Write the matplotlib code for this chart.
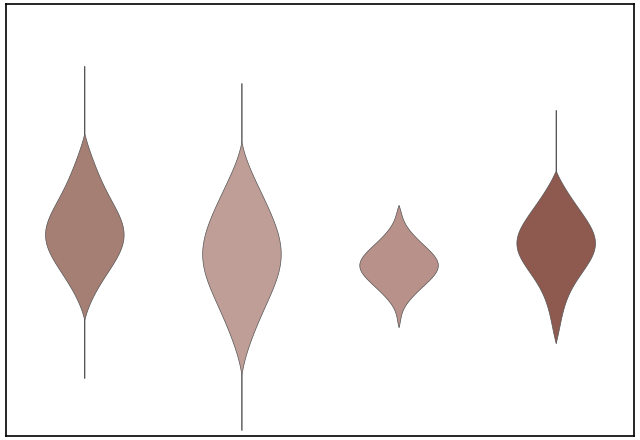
import matplotlib
matplotlib.use("Agg")
import matplotlib.pyplot as plt
import numpy as np

# samples (vertical scale: pixels from bottom)
group_a = [62, 150, 170, 185, 195, 200, 205, 210, 215, 225, 240, 260, 280, 374]
group_b = [10, 100, 130, 150, 165, 175, 185, 195, 205, 220, 240, 260, 357]
group_c = [113, 140, 155, 165, 172, 178, 185, 195, 210, 235]
group_d = [97, 130, 155, 175, 185, 192, 198, 205, 215, 230, 250, 330]
groups = [group_a, group_b, group_c, group_d]
colors = ["#a57f74", "#bf9e97", "#b8918a", "#8e5a4f"]


def kde_profile(values, bw_factor=0.4, n=400):
    v = np.asarray(values, float)
    bw = bw_factor * v.std(ddof=1)
    y = np.linspace(v.min(), v.max(), n)
    d = np.exp(-0.5 * ((y[:, None] - v[None, :]) / bw) ** 2).sum(axis=1)
    # let the ends taper to a point
    base = np.linspace(d[0], d[-1], n)
    d = np.clip(d - base, 0, None)
    return y, d / d.max()


fig, ax = plt.subplots(figsize=(6.4, 4.4), dpi=100)
fig.subplots_adjust(left=0.009, right=0.991, bottom=0.009, top=0.991)

for pos, (vals, c) in enumerate(zip(groups, colors), start=1):
    y, d = kde_profile(vals)
    half = 0.25 * d
    ax.fill_betweenx(y, pos - half, pos + half, facecolor=c,
                     edgecolor="#555555", linewidth=0.5)

ax.set_xlim(0.5, 4.5)
ax.set_ylim(4, 436)
ax.set_xticks([])
ax.set_yticks([])
for s in ax.spines.values():
    s.set_linewidth(1.2)

fig.savefig("out.png")
